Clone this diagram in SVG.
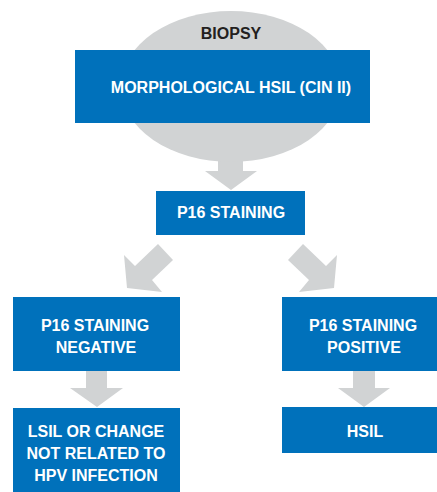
<svg xmlns="http://www.w3.org/2000/svg" width="437" height="492" viewBox="0 0 437 492">
<style>
.box{fill:#0071bb}
.arr{fill:#d1d3d4}
.t{font-family:"Liberation Sans",Arial,sans-serif;font-weight:bold;font-size:16px;fill:#ffffff;text-anchor:middle}
.dark{fill:#231f20}
</style>
<rect width="437" height="492" fill="#ffffff"/>
<g id="connectors">
<polygon class="arr" points="218,158 243,158 243,171 257,171 231,190 205,171 218,171"/>
<polygon class="arr" points="158,244 173,260 152,280 162,292 127,288 124,255 135,266"/>
<polygon class="arr" points="303,244 288,260 309,280 299,292 334,288 337,255 326,266"/>
<polygon class="arr" points="86,370 107,370 107,388 123,388 97,407 70,388 86,388"/>
<polygon class="arr" points="353,370 375,370 375,388 390,388 364,407 338,388 353,388"/>
</g>
<g id="biopsy">
<ellipse class="arr" cx="231" cy="86.5" rx="110" ry="75.5"/>
<text class="t dark" x="231" y="39">BIOPSY</text>
</g>
<g id="morphological">
<rect class="box" x="75" y="50" width="295" height="73"/>
<text class="t" x="231" y="93">MORPHOLOGICAL HSIL (CIN II)</text>
</g>
<g id="p16">
<rect class="box" x="156" y="191" width="149" height="44"/>
<text class="t" x="231" y="218">P16 STAINING</text>
</g>
<g id="negative">
<rect class="box" x="13" y="297" width="167" height="74"/>
<text class="t" x="95" y="331">P16 STAINING</text>
<text class="t" x="96" y="353">NEGATIVE</text>
</g>
<g id="positive">
<rect class="box" x="282" y="297" width="155" height="74"/>
<text class="t" x="363" y="331">P16 STAINING</text>
<text class="t" x="364" y="353">POSITIVE</text>
</g>
<g id="lsil">
<rect class="box" x="13" y="408" width="167" height="84"/>
<text class="t" x="96" y="437">LSIL OR CHANGE</text>
<text class="t" x="96" y="459">NOT RELATED TO</text>
<text class="t" x="96" y="481">HPV INFECTION</text>
</g>
<g id="hsil">
<rect class="box" x="282" y="407" width="155" height="46"/>
<text class="t" x="365" y="437">HSIL</text>
</g>
</svg>
